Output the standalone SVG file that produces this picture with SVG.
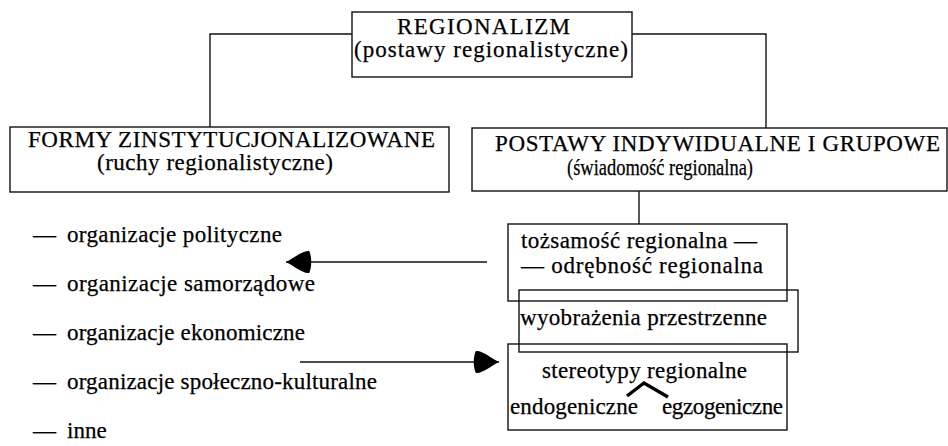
<svg xmlns="http://www.w3.org/2000/svg" width="948" height="446" viewBox="0 0 948 446">
<style>
  .box { fill: none; stroke: #111; stroke-width: 1.4; }
  .ln { fill: none; stroke: #111; stroke-width: 1.4; }
  .t { font-family: "Liberation Serif", "Times New Roman", serif; fill: #000; stroke: #000; stroke-width: 0.25; font-size: 23px; }
  .caret { fill: none; stroke: #000; stroke-width: 3.4; stroke-linejoin: miter; stroke-linecap: butt; }
</style>
<defs>
  <marker id="head" markerUnits="userSpaceOnUse" markerWidth="30" markerHeight="30" refX="18" refY="0" orient="auto" viewBox="-2 -10 22 20" overflow="visible">
    <path d="M18,0 C12,-3 5,-9 1,-8 C-1,-4 -1,4 1,8 C5,9 12,3 18,0 Z" fill="#000"/>
  </marker>
</defs>

<g id="connectors">
  <path class="ln" d="M352,34 H210 V127"/>
  <path class="ln" d="M632,34 H766 V128"/>
  <path class="ln" d="M639,191 V224"/>
  <path class="ln" d="M487,262 H286" marker-end="url(#head)"/>
  <path class="ln" d="M300,362 H499" marker-end="url(#head)"/>
  <path class="caret" d="M627,396 L644,383 L668,397"/>
</g>

<g id="regionalizm">
  <rect class="box" x="352" y="12" width="280" height="65"/>
  <text class="t" x="397" y="34" font-size="22" textLength="173" lengthAdjust="spacing">REGIONALIZM</text>
  <text class="t" x="354" y="57" font-size="22" textLength="274" lengthAdjust="spacing">(postawy regionalistyczne)</text>
</g>

<g id="formy">
  <rect class="box" x="10" y="127" width="439" height="65"/>
  <text class="t" x="28" y="147" textLength="407" lengthAdjust="spacing">FORMY ZINSTYTUCJONALIZOWANE</text>
  <text class="t" x="97" y="170" textLength="236" lengthAdjust="spacing">(ruchy regionalistyczne)</text>
</g>

<g id="postawy">
  <rect class="box" x="472" y="128" width="475" height="63"/>
  <text class="t" x="495" y="151" textLength="445" lengthAdjust="spacing">POSTAWY INDYWIDUALNE I GRUPOWE</text>
  <text class="t" x="567" y="175" font-size="20" textLength="186" lengthAdjust="spacingAndGlyphs">(świadomość regionalna)</text>
</g>

<g id="lista">
  <text class="t" y="242"><tspan x="33">—</tspan><tspan x="67" textLength="215" lengthAdjust="spacing">organizacje polityczne</tspan></text>
  <text class="t" y="291"><tspan x="33">—</tspan><tspan x="67" textLength="248" lengthAdjust="spacing">organizacje samorządowe</tspan></text>
  <text class="t" y="340"><tspan x="33">—</tspan><tspan x="67" textLength="238" lengthAdjust="spacing">organizacje ekonomiczne</tspan></text>
  <text class="t" y="389"><tspan x="33">—</tspan><tspan x="67" textLength="310" lengthAdjust="spacing">organizacje społeczno-kulturalne</tspan></text>
  <text class="t" y="438"><tspan x="33">—</tspan><tspan x="67">inne</tspan></text>
</g>

<g id="tozsamosc">
  <rect class="box" x="508" y="224" width="279" height="77"/>
  <text class="t" x="521" y="248" textLength="236" lengthAdjust="spacing">tożsamość regionalna —</text>
  <text class="t" x="521" y="273" textLength="242" lengthAdjust="spacing">—  odrębność regionalna</text>
</g>

<g id="wyobrazenia">
  <rect class="box" x="519" y="290" width="279" height="62"/>
  <text class="t" x="520" y="325" textLength="247" lengthAdjust="spacing">wyobrażenia przestrzenne</text>
</g>

<g id="stereotypy">
  <rect class="box" x="508" y="344" width="279" height="86"/>
  <text class="t" x="542" y="378" textLength="205" lengthAdjust="spacing">stereotypy regionalne</text>
  <text class="t" x="510" y="414" textLength="128" lengthAdjust="spacing">endogeniczne</text>
  <text class="t" x="662" y="414" textLength="121" lengthAdjust="spacing">egzogeniczne</text>
</g>
</svg>
